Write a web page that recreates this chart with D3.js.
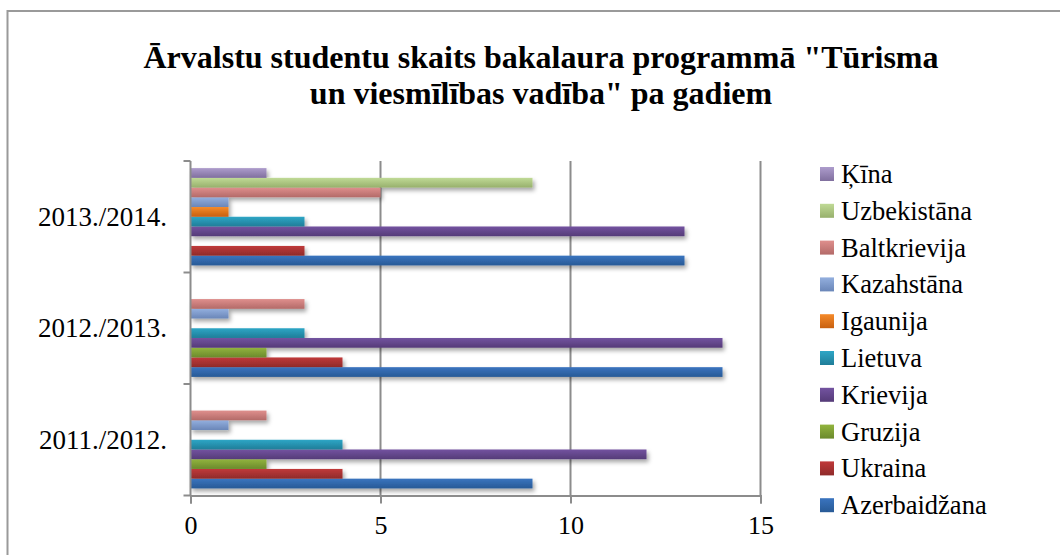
<!DOCTYPE html>
<html>
<head>
<meta charset="utf-8">
<script src="https://cdn.jsdelivr.net/npm/d3@7"></script>
<style>
  body { margin: 0; background: #fff; }
</style>
</head>
<body>
<div id="chart"></div>
<script>
// data: categories bottom -> top as in the source
var years = ["2011./2012.", "2012./2013.", "2013./2014."];
// series in drawing order (bottom bar of each group first)
var countries = ["Azerbaidžana", "Ukraina", "Gruzija", "Krievija", "Lietuva",
                 "Igaunija", "Kazahstāna", "Baltkrievija", "Uzbekistāna", "Ķīna"];
var azerbaidzana = [9, 14, 13];
var ukraina      = [4, 4, 3];
var gruzija      = [2, 2, 0];
var krievija     = [12, 14, 13];
var lietuva      = [4, 3, 3];
var igaunija     = [0, 0, 1];
var kazahstana   = [1, 1, 1];
var baltkrievija = [2, 3, 5];
var uzbekistana  = [0, 0, 9];
var kina         = [0, 0, 2];
var xTicks = [0, 5, 10, 15];
var titleLines = ["Ārvalstu studentu skaits bakalaura programmā \"Tūrisma",
                  "un viesmīlības vadība\" pa gadiem"];

var seriesValues = [azerbaidzana, ukraina, gruzija, krievija, lietuva,
                    igaunija, kazahstana, baltkrievija, uzbekistana, kina];
// [top colour, bottom colour] of the gradient
var colors = [["#3a74bf", "#285a96"], ["#c0393a", "#8f2b2a"], ["#92b43e", "#6b8a2c"],
              ["#7353a0", "#553b78"], ["#2ea6c6", "#1f7d98"], ["#f58a2a", "#c8600f"],
              ["#93afde", "#6a86b8"], ["#df8f8d", "#b36a68"], ["#c0da96", "#97b06c"],
              ["#ad9ccc", "#806f9e"]];

var SERIF = "'Liberation Serif', 'Times New Roman', Times, serif";
var W = 1060, H = 555;
var svg = d3.select("#chart").append("svg")
    .attr("width", W).attr("height", H)
    .style("font-family", SERIF);

var defs = svg.append("defs");
colors.forEach(function (c, i) {
    var g = defs.append("linearGradient").attr("id", "grad" + i)
        .attr("x1", 0).attr("y1", 0).attr("x2", 0).attr("y2", 1);
    g.append("stop").attr("offset", "0%").attr("stop-color", c[0]);
    g.append("stop").attr("offset", "100%").attr("stop-color", c[1]);
});
var f = defs.append("filter").attr("id", "shadow")
    .attr("x", "-10%").attr("y", "-50%").attr("width", "130%").attr("height", "250%");
f.append("feDropShadow").attr("dx", 2).attr("dy", 3).attr("stdDeviation", 2)
    .attr("flood-color", "#000").attr("flood-opacity", 0.35);

// outer frame
svg.append("rect")
    .attr("x", 7.5).attr("y", 11)
    .attr("width", 1100).attr("height", 600)
    .attr("fill", "none").attr("stroke", "#9a9a9a").attr("stroke-width", 2);

// title
svg.append("g").selectAll("text")
    .data(titleLines)
    .enter().append("text")
    .attr("x", 541)
    .attr("y", function (d, i) { return 68 + i * 36; })
    .attr("text-anchor", "middle")
    .style("font-family", SERIF)
    .style("font-size", "32px")
    .style("font-weight", "bold")
    .text(function (d) { return d; });

var plot = {left: 190.5, right: 760.5, top: 161, bottom: 495.5};

var x = d3.scaleLinear().domain([0, 15]).range([plot.left, plot.right]);
var y = d3.scaleBand().domain(years.slice().reverse()).range([plot.top, plot.bottom]);
var ySub = d3.scaleBand().domain(countries.slice().reverse())
    .range([0, y.bandwidth()]).paddingOuter(0.73);

// gridlines
svg.append("g").selectAll("line")
    .data(xTicks.slice(1))
    .enter().append("line")
    .attr("x1", function (d) { return x(d); }).attr("x2", function (d) { return x(d); })
    .attr("y1", plot.top).attr("y2", plot.bottom)
    .attr("stroke", "#8c8c8c").attr("stroke-width", 2);

// bars
var barData = [];
countries.forEach(function (name, si) {
    years.forEach(function (yr, yi) {
        barData.push({country: name, year: yr, value: seriesValues[si][yi], si: si});
    });
});
svg.append("g").attr("filter", "url(#shadow)")
    .selectAll("rect")
    .data(barData.filter(function (d) { return d.value > 0; }))
    .enter().append("rect")
    .attr("x", x(0))
    .attr("y", function (d) { return y(d.year) + ySub(d.country); })
    .attr("width", function (d) { return x(d.value) - x(0); })
    .attr("height", ySub.bandwidth())
    .attr("fill", function (d) { return "url(#grad" + d.si + ")"; });

// x axis
var xAxis = svg.append("g")
    .attr("transform", "translate(0," + plot.bottom + ")")
    .call(d3.axisBottom(x).tickValues(xTicks).tickSize(8).tickPadding(12));
xAxis.attr("font-family", null);
xAxis.select(".domain").attr("stroke", "#8c8c8c").attr("stroke-width", 2);
xAxis.selectAll(".tick line").attr("stroke", "#8c8c8c").attr("stroke-width", 2);
xAxis.selectAll(".tick text")
    .style("font-size", "26px")
    .style("font-family", SERIF)
    .attr("fill", "#000");

// y axis: ticks between categories
var yEdges = years.map(function (d) { return y(d); }).concat([plot.bottom]);
svg.append("line")
    .attr("x1", plot.left).attr("x2", plot.left)
    .attr("y1", plot.top).attr("y2", plot.bottom)
    .attr("stroke", "#8c8c8c").attr("stroke-width", 2);
svg.append("g").selectAll("line")
    .data(yEdges)
    .enter().append("line")
    .attr("x1", plot.left - 7).attr("x2", plot.left)
    .attr("y1", function (d) { return d; }).attr("y2", function (d) { return d; })
    .attr("stroke", "#8c8c8c").attr("stroke-width", 2);
svg.append("g").selectAll("text")
    .data(years)
    .enter().append("text")
    .attr("x", 167)
    .attr("y", function (d) { return y(d) + y.bandwidth() / 2 + 9; })
    .attr("text-anchor", "end")
    .style("font-family", SERIF)
    .style("font-size", "27px")
    .text(function (d) { return d; });

// legend (top to bottom: reverse of series order)
var legendItems = countries.slice().reverse();
var legend = svg.append("g").selectAll("g")
    .data(legendItems)
    .enter().append("g")
    .attr("transform", function (d, i) { return "translate(820," + (174 + i * 36.8) + ")"; });
legend.append("rect")
    .attr("x", 0).attr("y", -7)
    .attr("width", 14).attr("height", 14)
    .attr("fill", function (d) { return "url(#grad" + countries.indexOf(d) + ")"; });
legend.append("text")
    .attr("x", 21).attr("y", 9)
    .style("font-family", SERIF)
    .style("font-size", "26.5px")
    .text(function (d) { return d; });
</script>
</body>
</html>
